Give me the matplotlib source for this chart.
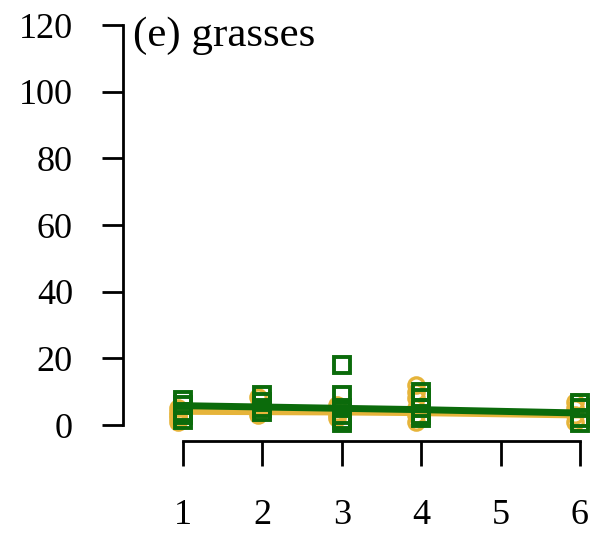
import numpy as np
import matplotlib.pyplot as plt

plt.rcParams['font.family'] = ['Liberation Serif', 'DejaVu Serif']

# survey times on x axis, observations of grass cover
x_ticks = [1, 2, 3, 4, 5, 6]
y_ticks = [0, 20, 40, 60, 80, 100, 120]

# orange circles (group A)
a_x = [1, 1, 1, 1, 1, 2, 2, 2, 2, 3, 3, 3, 3, 4, 4, 4, 4, 4, 4, 6, 6, 6, 6]
a_y = [1, 2, 3, 4, 5, 3, 4, 5, 8.5, 2, 3, 4, 6, 1, 3, 5, 8, 10, 12, 1, 3, 5, 7]
a_mean_x = [1, 2, 3, 4, 6]
a_mean_y = [4.1, 4.0, 3.9, 3.7, 3.0]

# green squares (group B)
b_x = [1, 1, 1, 1, 1, 2, 2, 2, 2, 3, 3, 3, 3, 3, 3, 4, 4, 4, 4, 4, 6, 6, 6, 6]
b_y = [1.5, 3, 4, 6, 7.5, 4, 5, 7, 9, 0.5, 1.5, 3, 5, 9, 18, 2, 3, 5, 8, 10, 0.5, 2, 5, 6.5]
b_mean_x = [1, 2, 3, 4, 6]
b_mean_y = [5.8, 5.4, 5.0, 4.6, 3.6]

orange = '#E6B43A'
green = '#0B6B0B'

fig = plt.figure(figsize=(5.9, 5.34), dpi=100)
ax = fig.add_axes([123 / 590, 93 / 534, 467 / 590, 432 / 534])

ax.plot(a_mean_x, a_mean_y, color=orange, lw=5, solid_capstyle='butt', zorder=2)
ax.plot(np.array(a_x) - 0.06, a_y, 'o', ms=11, mfc='none', mec=orange, mew=2.4, zorder=3)
ax.plot(b_mean_x, b_mean_y, color=green, lw=5, solid_capstyle='butt', zorder=4)
ax.plot(b_x, b_y, 's', ms=12, mfc='none', mec=green, mew=2.8, zorder=5)

ax.set_xlim(0.243, 6.126)
ax.set_ylim(-4.8, 124.8)

for s in ['top', 'right']:
    ax.spines[s].set_visible(False)
ax.spines['left'].set_bounds(0, 120)
ax.spines['bottom'].set_bounds(1, 6)
ax.spines['left'].set_linewidth(2)
ax.spines['bottom'].set_linewidth(2)

ax.set_xticks(x_ticks)
ax.set_yticks(y_ticks)
ax.tick_params(axis='x', length=18, width=2, pad=24, labelsize=26)
ax.tick_params(axis='y', length=15, width=2, pad=21, labelsize=26)

fig.text(133 / 590, 1 - 36 / 534, '(e) grasses', fontsize=31, va='center', ha='left')

fig.savefig('out.png', dpi=100)
